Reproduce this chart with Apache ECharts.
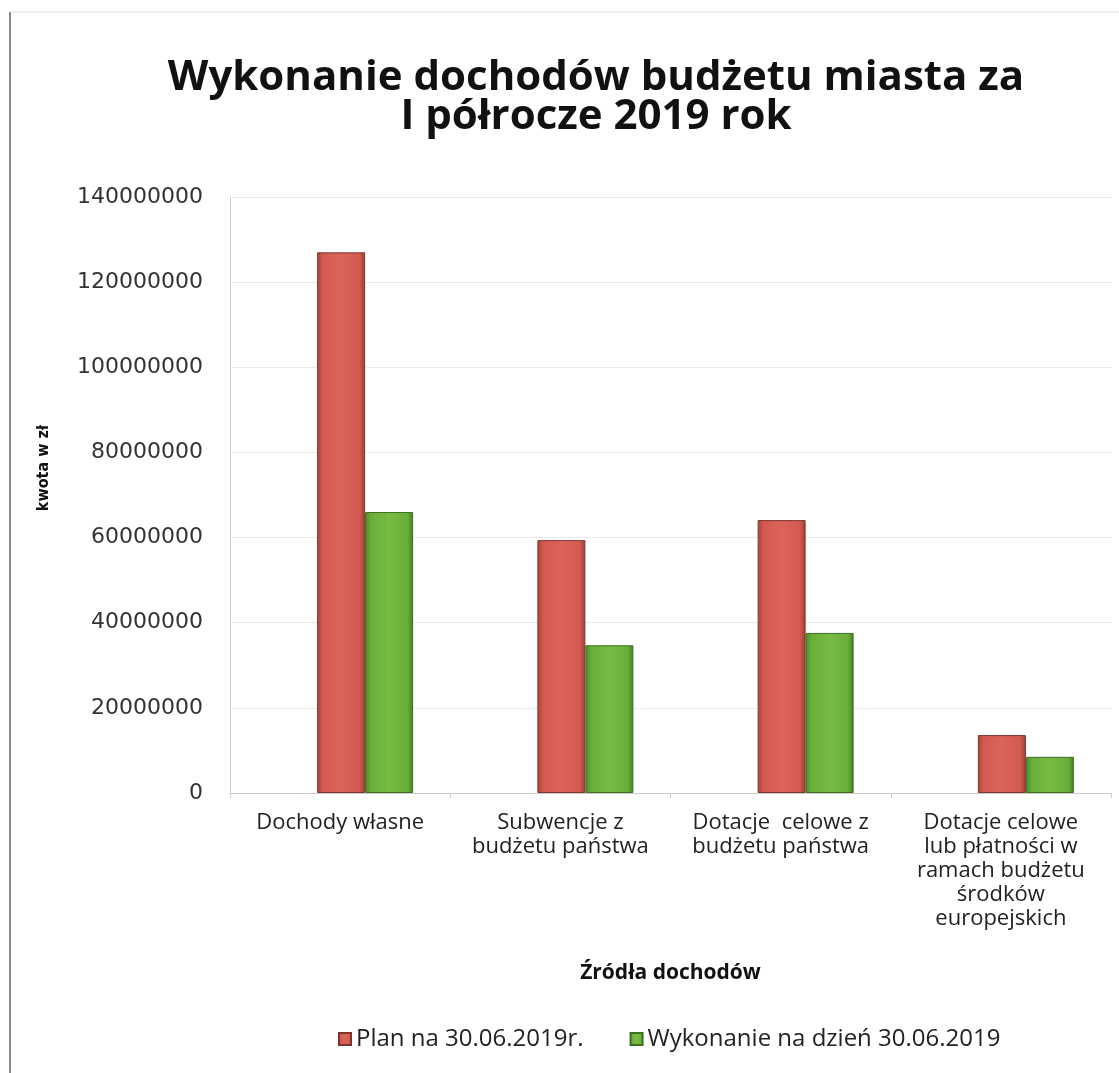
<!DOCTYPE html>
<html>
<head>
<meta charset="utf-8">
<script src="https://cdn.jsdelivr.net/npm/echarts@6/dist/echarts.min.js"></script>
<style>
html,body{margin:0;padding:0;background:#fff;}
#chart{width:1119px;height:1073px;}
</style>
</head>
<body>
<div id="chart"></div>
<script>
const categories = [
  'Dochody własne',
  'Subwencje z\nbudżetu państwa',
  'Dotacje  celowe z\nbudżetu państwa',
  'Dotacje celowe\nlub płatności w\nramach budżetu\nśrodków\neuropejskich'
];
const planValues = [127000000, 59400000, 64100000, 13600000];
const wykonanieValues = [66000000, 34700000, 37600000, 8500000];
const seriesNames = ['Plan na 30.06.2019r.', 'Wykonanie na dzień 30.06.2019'];
const titleText = 'Wykonanie dochodów budżetu miasta za\nI półrocze 2019 rok';
const yAxisName = 'kwota w zł';
const xAxisName = 'Źródła dochodów';

const redGrad = new echarts.graphic.LinearGradient(0, 0, 1, 0, [
  {offset: 0, color: '#a8443a'},
  {offset: 0.12, color: '#d35a50'},
  {offset: 0.5, color: '#db645a'},
  {offset: 0.88, color: '#d35a50'},
  {offset: 1, color: '#9c3e35'}
]);
const greenGrad = new echarts.graphic.LinearGradient(0, 0, 1, 0, [
  {offset: 0, color: '#4a8a2a'},
  {offset: 0.12, color: '#68ae3a'},
  {offset: 0.5, color: '#78bc44'},
  {offset: 0.88, color: '#68ae3a'},
  {offset: 1, color: '#447f27'}
]);

const chart = echarts.init(document.getElementById('chart'));
chart.setOption({
  backgroundColor: '#ffffff',
  animation: false,
  title: {
    text: titleText,
    left: 591,
    textAlign: 'center',
    top: 54,
    textStyle: {
      fontFamily: 'Open Sans',
      fontWeight: 'bold',
      fontSize: 42,
      lineHeight: 39,
      color: '#111'
    }
  },
  graphic: [
    {type: 'line', shape: {x1: 10, y1: 12, x2: 10, y2: 1073}, style: {stroke: '#888', lineWidth: 2}},
    {type: 'line', shape: {x1: 10, y1: 12, x2: 1119, y2: 12}, style: {stroke: '#ddd', lineWidth: 1}}
  ],
  legend: {
    bottom: 17,
    left: 333,
    itemWidth: 12,
    itemHeight: 12,
    itemGap: 46,
    icon: 'rect',
    textStyle: {fontFamily: 'Open Sans', fontSize: 24, color: '#222'},
    data: seriesNames
  },
  grid: {left: 230, right: 8, top: 197, bottom: 280},
  xAxis: {
    type: 'category',
    data: categories,
    name: xAxisName,
    nameLocation: 'middle',
    nameGap: 170,
    nameTextStyle: {fontFamily: 'Open Sans', fontWeight: 'bold', fontSize: 21, color: '#111'},
    axisLine: {show: true, lineStyle: {color: '#ccc'}},
    axisTick: {show: true, lineStyle: {color: '#ccc'}},
    axisLabel: {
      interval: 0,
      margin: 18,
      fontFamily: 'Open Sans',
      fontSize: 22,
      lineHeight: 24,
      color: '#222',
      verticalAlign: 'top'
    }
  },
  yAxis: {
    type: 'value',
    min: 0,
    max: 140000000,
    interval: 20000000,
    name: yAxisName,
    nameLocation: 'middle',
    nameGap: 178,
    nameRotate: 90,
    nameTextStyle: {fontFamily: 'DejaVu Sans Condensed', fontWeight: 'bold', fontSize: 16, color: '#111', padding: [0, 0, 0, 54]},
    axisLine: {show: true, lineStyle: {color: '#ccc'}},
    axisTick: {show: false},
    axisLabel: {
      margin: 27,
      fontFamily: 'DejaVu Sans',
      fontSize: 22,
      color: '#333',
      formatter: function (v) { return String(v); }
    },
    splitLine: {show: true, lineStyle: {color: '#d6d6d6', type: 'dotted'}}
  },
  series: [
    {
      name: 'spacer',
      type: 'bar',
      data: [],
      barWidth: 50,
      barGap: '0%',
      silent: true,
      itemStyle: {color: 'transparent'}
    },
    {
      name: seriesNames[0],
      type: 'bar',
      data: planValues,
      barWidth: 48,
      barGap: '0%',
      itemStyle: {color: redGrad, borderColor: '#7d342c', borderWidth: 1}
    },
    {
      name: seriesNames[1],
      type: 'bar',
      data: wykonanieValues,
      barWidth: 48,
      barGap: '0%',
      itemStyle: {color: greenGrad, borderColor: '#3d6e22', borderWidth: 1}
    }
  ]
});
</script>
</body>
</html>
